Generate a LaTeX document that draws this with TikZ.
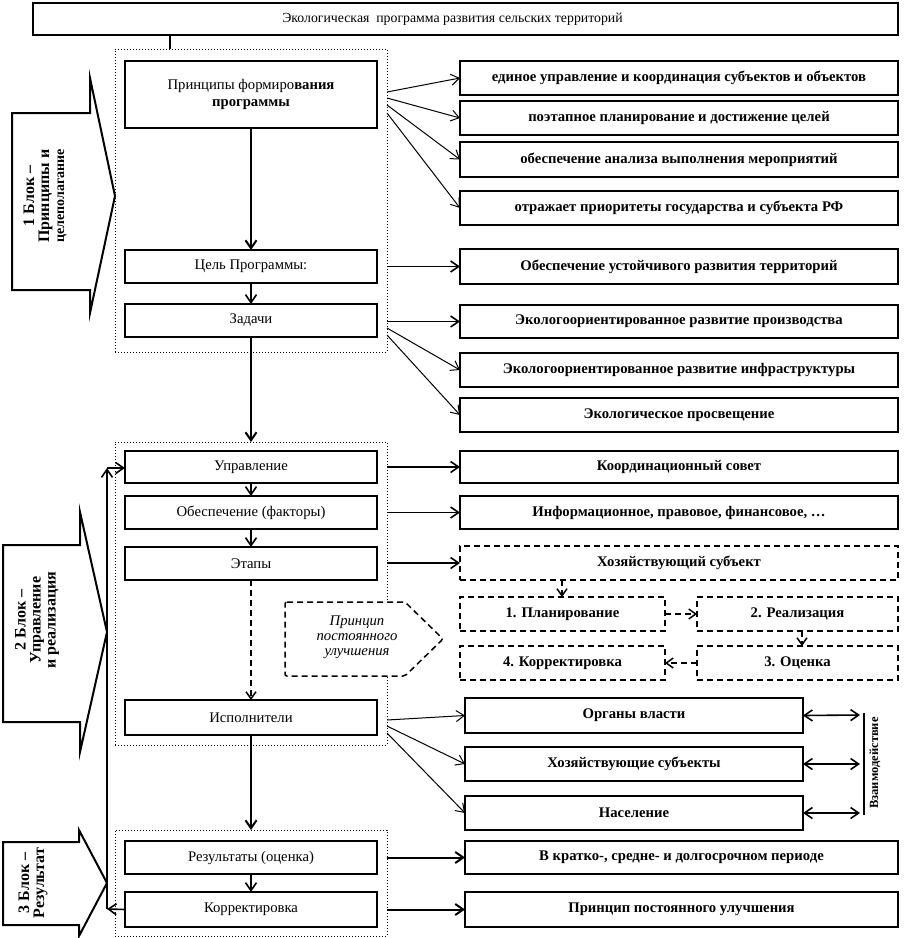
\documentclass[tikz,border=0pt]{standalone}
\usepackage{fontspec}
\setmainfont{Liberation Serif}
\usetikzlibrary{arrows.meta,calc}
\newcommand\bxn[7]{\node[#2, minimum width={(#5-#3)*1pt}, minimum height={(#6-#4)*1pt}] (#1) at ({(#3+#5)/2},{(#4+#6)/2}) {#7};}
\begin{document}
\begin{tikzpicture}[x=1pt,y=-1pt,
  every node/.style={font=\fontsize{14.7}{16.5}\selectfont, inner sep=0pt, outer sep=0pt},
  sbox/.style={draw, line width=2pt, rectangle, align=center},
  rbox/.style={sbox, font=\fontsize{14.7}{16.5}\selectfont\bfseries},
  dbox/.style={draw, line width=1.5pt, dash pattern=on 6pt off 4pt, rectangle, align=center, font=\fontsize{14.7}{16.5}\selectfont\bfseries},
  frame/.style={draw, line width=1pt, dotted},
  arr/.style={-{Straight Barb[length=8pt,width=11pt]}, line width=1.6pt},
  thk/.style={-{Straight Barb[length=8pt,width=11pt]}, line width=2pt},
  farr/.style={-{Straight Barb[length=8pt,width=11pt]}, line width=1pt},
  darr/.style={-{Straight Barb[length=7pt,width=10pt]}, line width=1.5pt, dash pattern=on 6pt off 4pt},
  barr/.style={{Straight Barb[length=8pt,width=11pt]}-{Straight Barb[length=8pt,width=11pt]}, line width=1.6pt},
  blk/.style={draw, line width=2pt, line join=miter},
  blktext/.style={rotate=90, align=center, font=\fontsize{16}{15}\selectfont\bfseries}
]
\useasboundingbox (0,0) rectangle (906,938);

% dotted frames
\bxn{F1}{frame}{115}{49}{387}{352}{}
\bxn{F2}{frame}{115}{442}{387}{745}{}
\bxn{F3}{frame}{115}{830}{387}{936}{}

% title
\bxn{title}{sbox, font=\fontsize{13.8}{16}\selectfont}{33}{3}{898}{35}{Экологическая~ программа развития сельских территорий\hspace*{26pt}}

% left column
\bxn{p1}{sbox}{125}{61}{377}{128}{Принципы формиро\textbf{вания}\\\textbf{программы}}
\bxn{goal}{sbox}{125}{250}{377}{283}{Цель Программы:}
\bxn{tasks}{sbox}{125}{304}{377}{337}{Задачи}
\bxn{upr}{sbox}{125}{451}{377}{483}{Управление}
\bxn{obesp}{sbox}{125}{496}{377}{529}{Обеспечение (факторы)}
\bxn{etapy}{sbox}{125}{547}{377}{580}{Этапы}
\bxn{ispol}{sbox}{125}{700}{377}{735}{Исполнители}
\bxn{res}{sbox}{125}{841}{377}{874}{Результаты (оценка)}
\bxn{korr}{sbox}{125}{892}{377}{927}{Корректировка}

% right column
\bxn{r1}{rbox}{460}{61}{898}{95}{единое управление и координация субъектов и объектов}
\bxn{r2}{rbox}{460}{101}{898}{135}{поэтапное планирование и достижение целей}
\bxn{r3}{rbox}{460}{142}{898}{177}{обеспечение анализа выполнения мероприятий}
\bxn{r4}{rbox}{460}{191}{898}{225}{отражает приоритеты государства и субъекта РФ}
\bxn{g1}{rbox}{460}{249}{898}{284}{Обеспечение устойчивого развития территорий}
\bxn{t1}{rbox}{460}{305}{898}{338}{Экологоориентированное развитие производства}
\bxn{t2}{rbox}{460}{353}{898}{387}{Экологоориентированное развитие инфраструктуры}
\bxn{t3}{rbox}{460}{398}{898}{432}{Экологическое просвещение}
\bxn{u1}{rbox}{460}{451}{898}{483}{Координационный совет}
\bxn{o1}{rbox}{460}{496}{898}{529}{Информационное, правовое, финансовое, \dots}
\bxn{hs}{dbox}{460}{546}{898}{580}{Хозяйствующий субъект}
\bxn{pl}{dbox}{460}{597}{665}{631}{1. Планирование}
\bxn{re}{dbox}{697}{597}{898}{631}{2. Реализация}
\bxn{ko}{dbox}{460}{646}{665}{680}{4. Корректировка}
\bxn{oc}{dbox}{697}{646}{898}{680}{3. Оценка}
\bxn{ov}{rbox}{465}{698}{803}{733}{Органы власти}
\bxn{hsub}{rbox}{465}{747}{803}{781}{Хозяйствующие субъекты}
\bxn{nas}{rbox}{465}{796}{803}{830}{Население}
\bxn{rr1}{rbox}{465}{841}{898}{874}{В кратко-, средне- и долгосрочном периоде}
\bxn{rr2}{rbox}{465}{892}{898}{927}{Принцип постоянного улучшения}

% principle pentagon
\draw[line width=1.5pt, dash pattern=on 6pt off 4pt, fill=white, rounded corners=2pt]
  (285,602) -- (405,602) -- (443,639) -- (405,676) -- (285,676) -- cycle;
\node[align=center, font=\fontsize{14.7}{15}\selectfont\itshape] (princ) at (357,637) {Принцип\\постоянного\\улучшения};

% big block arrows
\draw[blk] (12,113) -- (90,113) -- (90,78) -- (115,196) -- (90,313) -- (90,290) -- (12,290) -- cycle;
\node[blktext] (b1) at (45,196) {1 Блок –\\Принципы и\\{\fontsize{14}{13}\selectfont целеполагание}};
\draw[blk] (3,545) -- (80,545) -- (80,512) -- (107,632) -- (80,752) -- (80,722) -- (3,722) -- cycle;
\node[blktext] (b2) at (37,620) {2 Блок –\\Управление\\и реализация};
\draw[blk] (3,842) -- (79,842) -- (79,830) -- (107,883) -- (79,936) -- (79,925) -- (3,925) -- cycle;
\node[blktext] (b3) at (33,883) {3 Блок –\\Результат};

% connectors
\coordinate (c0) at (170,49);
\draw[line width=2pt] (title.south -| c0) -- (c0);
\draw[thk] (p1.south) -- (goal.north);
\draw[arr] (goal.south) -- (tasks.north);
\draw[thk] (tasks.south) -- (F2.north);
\coordinate (fa) at (387,92);
\coordinate (fb) at (387,98);
\coordinate (fc) at (387,105);
\coordinate (fd) at (387,113);
\draw[farr] (fa) -- (r1.west);
\draw[farr] (fb) -- (r2.west);
\draw[farr] (fc) -- (r3.west);
\draw[farr] (fd) -- (r4.west);
\draw[arr] (F1.east |- g1.west) -- (g1.west);
\draw[arr] (F1.east |- t1.west) -- (t1.west);
\coordinate (ta) at (387,328);
\coordinate (tb) at (387,335);
\draw[farr] (ta) -- (t2.west);
\draw[farr] (tb) -- (t3.west);

\draw[arr] (upr.south) -- (obesp.north);
\draw[arr] (obesp.south) -- (etapy.north);
\draw[darr] (etapy.south) -- (ispol.north);
\draw[arr] (F2.east |- u1.west) -- (u1.west);
\draw[arr] (F2.east |- o1.west) -- (o1.west);
\draw[arr] (F2.east |- hs.west) -- (hs.west);
\draw[darr] (hs.south -| 562,0) -- (pl.north -| 562,0);
\draw[darr] (pl.east) -- (re.west);
\draw[darr] (re.south -| 802,0) -- (oc.north -| 802,0);
\draw[darr] (oc.west) -- (ko.east);

\coordinate (ia) at (387,720);
\coordinate (ib) at (387,726);
\coordinate (ic) at (387,733);
\draw[farr] (ia) -- (ov.west);
\draw[farr] (ib) -- (hsub.west);
\draw[farr] (ic) -- (nas.west);
\coordinate (va) at (860,715);
\coordinate (vb) at (860,764);
\coordinate (vc) at (860,813);
\draw[barr] (ov.east) -- (va);
\draw[barr] (hsub.east) -- (vb);
\draw[barr] (nas.east) -- (vc);
\draw[line width=2pt] (864,713) coordinate (vt) -- (864,815) coordinate (vbt);
\node[rotate=90, font=\fontsize{12.5}{14}\selectfont\bfseries] (vz) at (875,763) {Взаимодействие};

\draw[thk] (ispol.south) -- (F3.north);
\draw[arr] (res.south) -- (korr.north);
\draw[thk] (F3.east |- rr1.west) -- (rr1.west);
\draw[thk] (F3.east |- rr2.west) -- (rr2.west);

\coordinate (fbk1) at (107,909);
\coordinate (fbk2) at (107,468);
\draw[arr] (korr.west) -- (fbk1);
\draw[arr] (fbk1) -- (fbk2);
\draw[arr] (fbk2) -- (upr.west |- fbk2);
\end{tikzpicture}
\end{document}
